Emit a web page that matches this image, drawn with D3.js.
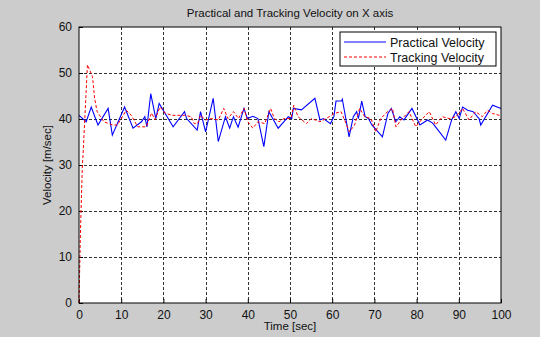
<!DOCTYPE html>
<html>
<head>
<meta charset="utf-8">
<script src="https://cdn.jsdelivr.net/npm/d3@7"></script>
<style>
  body { margin: 0; background: #cccccc; }
  text { font-family: "Liberation Sans", Arial, sans-serif; fill: #111; }
</style>
</head>
<body>
<div id="chart"></div>
<script>
// Practical velocity (blue, solid)
var practicalTime = [0, 1.7, 2.9, 4.5, 6.9, 7.9, 10.8, 12.8, 14.8, 15.6, 16.1, 17, 18.2, 19, 22.3, 25, 25.5, 28, 28.8, 30,
  31.8, 33, 34.7, 35.7, 36.6, 37.7, 39.1, 39.9, 41.2, 42.4, 43.8, 45, 47.2, 49.6, 50.4, 50.8, 52.7, 55.9, 57.1, 57.9,
  59.6, 60.4, 60.9, 62.2, 62.4, 64, 65, 65.8, 66.2, 67, 67.8, 68.6, 69.4, 71.9, 73.2, 74, 74.8, 75.1, 75.7, 76,
  77, 78.9, 80.8, 82.6, 83.8, 84.5, 86.9, 88.3, 89.3, 90.1, 90.9, 92.1, 93.4, 94.4, 94.8, 95.2, 98, 100];
var practicalVel = [40.8, 39.4, 42.6, 38.7, 42.3, 36.5, 42.6, 38, 39.4, 40.5, 38.3, 45.5, 40.1, 43.4, 38.3, 41.6, 40.1, 37.6, 41.6, 37.2,
  44.5, 35.1, 40.5, 38, 40.5, 38.2, 42.3, 40.1, 40.6, 40.1, 34, 41.6, 38, 40.5, 40.1, 42.3, 42, 44.5, 39.8, 40.1,
  39, 40.5, 43.9, 43.9, 44.3, 36.1, 40.5, 41.6, 40.1, 43.9, 40.5, 40.1, 38.7, 36.1, 41.2, 42.3, 40.1, 39.4, 40.1, 40.5,
  39.8, 42.3, 38.7, 39.8, 39.1, 38.3, 35.4, 39.8, 41.6, 40.1, 42.6, 41.9, 41.6, 40.5, 40.1, 38.7, 43, 42.3];

// Tracking velocity (red, dashed)
var trackingTime = [0, 0.3, 0.6, 0.8, 0.95, 2, 3.2, 3.7, 4.3, 5.9, 8, 9.1, 11.2, 12.4, 13.9, 15.9, 17.2, 18, 19.2, 20.4,
  22, 25, 26.6, 27.3, 28.1, 28.8, 30, 31.4, 33, 34.3, 35.3, 36.6, 37.8, 39.1, 40, 41.2, 42.4, 44, 45.4, 46.3,
  47.4, 48.6, 50.2, 50.9, 51.9, 53.9, 55.1, 57.1, 58.6, 60.5, 62.1, 64.1, 65.3, 66.5, 67.7, 69.2, 70.3, 71.5, 73.1, 74.3,
  75.1, 76.6, 78.2, 79.8, 81.4, 83, 84.5, 86.1, 87.7, 89.3, 90.9, 92.4, 94, 95.6, 96.8, 98, 99.6, 100];
var trackingVel = [0, 13.7, 23.9, 30, 32, 51.8, 49.2, 44.5, 41.6, 39.4, 38.7, 38.7, 41.9, 40.8, 38.3, 38.3, 41.3, 39.9, 42.6, 41.3,
  40.8, 40.8, 40.5, 39.0, 39.0, 40.8, 39.8, 40.1, 39.8, 42.3, 40.1, 41.6, 40.1, 42.3, 39.4, 38.0, 39.4, 39.0, 42.3, 40.1,
  39.4, 40.1, 40.1, 43.0, 40.5, 39.0, 40.1, 39.4, 40.1, 41.2, 41.6, 37.2, 38.7, 42.3, 40.5, 40.1, 37.2, 40.1, 41.6, 42.3,
  38.3, 40.1, 41.6, 38.3, 40.1, 41.6, 38.7, 40.5, 40.1, 40.5, 42.3, 39.8, 41.6, 40.5, 41.9, 41.2, 40.8, 40.8];

var xTicks = [0, 10, 20, 30, 40, 50, 60, 70, 80, 90, 100];
var yTicks = [0, 10, 20, 30, 40, 50, 60];
var seriesNames = ["Practical Velocity", "Tracking Velocity"];

var width = 540, height = 337;
var margin = {left: 79, right: 39, top: 27, bottom: 34};

var svg = d3.select("#chart").append("svg")
  .attr("width", width)
  .attr("height", height);

svg.append("rect")
  .attr("width", width).attr("height", height)
  .attr("fill", "#cccccc");

var x = d3.scaleLinear().domain([0, 100]).range([margin.left, width - margin.right]);
var y = d3.scaleLinear().domain([0, 60]).range([height - margin.bottom, margin.top]);

// plot area
svg.append("rect")
  .attr("x", x(0)).attr("y", y(60))
  .attr("width", x(100) - x(0)).attr("height", y(0) - y(60))
  .attr("fill", "#fff");

// grid
svg.append("g").selectAll("line.gx")
  .data(xTicks.slice(1, -1))
  .enter().append("line")
    .attr("x1", function(d) { return Math.round(x(d)) + 0.5; })
    .attr("x2", function(d) { return Math.round(x(d)) + 0.5; })
    .attr("y1", y(60)).attr("y2", y(0))
    .attr("stroke", "#333").attr("stroke-dasharray", "3,2");

svg.append("g").selectAll("line.gy")
  .data(yTicks.slice(1, -1))
  .enter().append("line")
    .attr("y1", function(d) { return Math.round(y(d)) + 0.5; })
    .attr("y2", function(d) { return Math.round(y(d)) + 0.5; })
    .attr("x1", x(0)).attr("x2", x(100))
    .attr("stroke", "#333").attr("stroke-dasharray", "3,2");

// axes
var xAxis = svg.append("g")
  .attr("transform", "translate(0," + y(0) + ")")
  .call(d3.axisBottom(x).tickValues(xTicks).tickSize(-4).tickPadding(7));
var yAxis = svg.append("g")
  .attr("transform", "translate(" + x(0) + ",0)")
  .call(d3.axisLeft(y).tickValues(yTicks).tickSize(-4).tickPadding(7));
[xAxis, yAxis].forEach(function(a) {
  a.select(".domain").remove();
  a.selectAll("text").style("font-size", "12px").style("font-family", "Liberation Sans, Arial, sans-serif").attr("fill", "#111");
  a.selectAll("line").attr("stroke", "#000");
});

// series
var line = d3.line()
  .x(function(d) { return x(d[0]); })
  .y(function(d) { return y(d[1]); });

var practical = practicalTime.map(function(t, i) { return [t, practicalVel[i]]; });
var tracking = trackingTime.map(function(t, i) { return [t, trackingVel[i]]; });

svg.append("path")
  .datum(practical)
  .attr("d", line)
  .attr("fill", "none")
  .attr("stroke", "#0000ff")
  .attr("stroke-width", 1.1);

svg.append("path")
  .datum(tracking)
  .attr("d", line)
  .attr("fill", "none")
  .attr("stroke", "#ff0000")
  .attr("stroke-width", 1)
  .attr("stroke-dasharray", "3,2");

// box
svg.append("rect")
  .attr("x", x(0)).attr("y", y(60))
  .attr("width", x(100) - x(0)).attr("height", y(0) - y(60))
  .attr("fill", "none").attr("stroke", "#000");

// legend
var lg = svg.append("g").attr("transform", "translate(340,32)");
lg.append("rect")
  .attr("width", 156).attr("height", 34)
  .attr("fill", "#fff").attr("stroke", "#000");
var styles = [{c: "#0000ff", dash: null}, {c: "#ff0000", dash: "3,2"}];
seriesNames.forEach(function(name, i) {
  var yy = 10 + i * 15;
  lg.append("line")
    .attr("x1", 4).attr("x2", 46).attr("y1", yy).attr("y2", yy)
    .attr("stroke", styles[i].c)
    .attr("stroke-dasharray", styles[i].dash);
  lg.append("text")
    .attr("x", 50).attr("y", yy + 4.5)
    .style("font-size", "12.5px")
    .text(name);
});

// titles
svg.append("text")
  .attr("x", (x(0) + x(100)) / 2).attr("y", 17)
  .attr("text-anchor", "middle")
  .style("font-size", "11.5px")
  .text("Practical and Tracking Velocity on X axis");

svg.append("text")
  .attr("x", (x(0) + x(100)) / 2).attr("y", 330)
  .attr("text-anchor", "middle")
  .style("font-size", "11.5px")
  .text("Time [sec]");

svg.append("text")
  .attr("transform", "translate(51," + (y(30)) + ") rotate(-90)")
  .attr("text-anchor", "middle")
  .style("font-size", "11.5px")
  .text("Velocity [m/sec]");
</script>
</body>
</html>
